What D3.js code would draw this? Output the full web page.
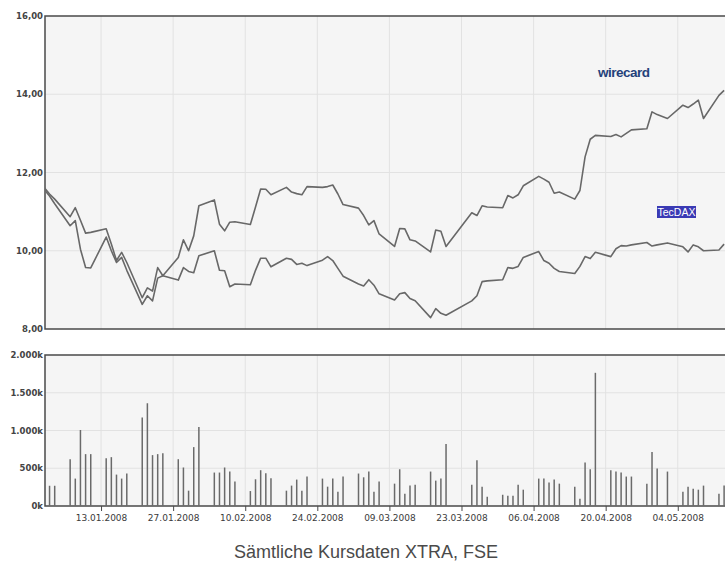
<!DOCTYPE html>
<html>
<head>
<meta charset="utf-8">
<script src="https://cdn.jsdelivr.net/npm/d3@7"></script>
<style>
  body { margin: 0; background: #fff; }
</style>
</head>
<body>
<div id="chart"></div>
<script>

// trading days XTRA, Jan - May 2008
var days = ["2008-01-02","2008-01-03","2008-01-04","2008-01-07","2008-01-08","2008-01-09","2008-01-10","2008-01-11",
  "2008-01-14","2008-01-15","2008-01-16","2008-01-17","2008-01-18","2008-01-21","2008-01-22","2008-01-23","2008-01-24","2008-01-25",
  "2008-01-28","2008-01-29","2008-01-30","2008-01-31","2008-02-01","2008-02-04","2008-02-05","2008-02-06","2008-02-07","2008-02-08",
  "2008-02-11","2008-02-12","2008-02-13","2008-02-14","2008-02-15","2008-02-18","2008-02-19","2008-02-20","2008-02-21","2008-02-22",
  "2008-02-25","2008-02-26","2008-02-27","2008-02-28","2008-02-29","2008-03-03","2008-03-04","2008-03-05","2008-03-06","2008-03-07",
  "2008-03-10","2008-03-11","2008-03-12","2008-03-13","2008-03-14","2008-03-17","2008-03-18","2008-03-19","2008-03-20",
  "2008-03-25","2008-03-26","2008-03-27","2008-03-28","2008-03-31","2008-04-01","2008-04-02","2008-04-03","2008-04-04",
  "2008-04-07","2008-04-08","2008-04-09","2008-04-10","2008-04-11","2008-04-14","2008-04-15","2008-04-16","2008-04-17","2008-04-18",
  "2008-04-21","2008-04-22","2008-04-23","2008-04-24","2008-04-25","2008-04-28","2008-04-29","2008-04-30","2008-05-02",
  "2008-05-05","2008-05-06","2008-05-07","2008-05-08","2008-05-09","2008-05-12","2008-05-13"];

// closing prices (EUR)
var wirecard = [11.61, 11.45, 11.32, 10.87, 11.10, 10.78, 10.45, 10.47, 10.56, 10.17, 9.75, 9.96, 9.70, 8.80, 9.05, 8.97, 9.57, 9.36, 9.83, 10.28, 10.00, 10.38,
  11.15, 11.30, 10.68, 10.51, 10.73, 10.74, 10.67, 11.12, 11.58, 11.57, 11.43, 11.62, 11.50, 11.46, 11.43, 11.64, 11.62, 11.64, 11.68, 11.45, 11.18,
  11.09, 10.90, 10.66, 10.77, 10.43, 10.11, 10.57, 10.56, 10.28, 10.25, 9.97, 10.53, 10.50, 10.11, 10.97, 10.90, 11.15, 11.12, 11.10,
  11.41, 11.35, 11.43, 11.66, 11.90, 11.83, 11.75, 11.47, 11.50, 11.32, 11.54, 12.40, 12.85, 12.95, 12.92, 12.97, 12.91, 13.00, 13.09, 13.12, 13.55, 13.48,
  13.38, 13.72, 13.66, 13.75, 13.85, 13.38, 13.97, 14.10];

// TecDAX, rebased to wirecard
var tecdax = [11.56, 11.40, 11.20, 10.64, 10.77, 10.04, 9.57, 9.56, 10.35, 10.00, 9.70, 9.83, 9.50, 8.63, 8.85, 8.72, 9.30, 9.36, 9.25, 9.57, 9.47, 9.44,
  9.87, 10.00, 9.50, 9.49, 9.08, 9.15, 9.13, 9.50, 9.81, 9.81, 9.59, 9.81, 9.78, 9.65, 9.68, 9.62, 9.76, 9.85, 9.75, 9.55, 9.35,
  9.15, 9.10, 9.26, 9.12, 8.90, 8.74, 8.90, 8.93, 8.78, 8.72, 8.29, 8.52, 8.40, 8.35, 8.72, 8.85, 9.21, 9.23, 9.26,
  9.57, 9.55, 9.60, 9.83, 9.98, 9.75, 9.68, 9.55, 9.47, 9.42, 9.60, 9.85, 9.80, 9.96, 9.85, 10.05, 10.13, 10.12, 10.15, 10.21, 10.12, 10.15,
  10.20, 10.10, 9.97, 10.15, 10.10, 10.00, 10.02, 10.17];

// volume in thousand shares
var volume = [0, 268, 268, 620, 363, 1007, 687, 687, 634, 647, 416, 363, 430, 1171, 1361, 674, 687, 700, 620, 510, 203, 780,
  1047, 443, 443, 510, 456, 323, 198, 354, 474, 434, 367, 203, 270, 350, 203, 390, 363, 256, 363, 190, 390,
  430, 380, 456, 190, 323, 296, 487, 163, 270, 283, 456, 336, 363, 821, 283, 607, 256, 123, 149,
  136, 136, 283, 216, 363, 363, 310, 350, 296, 256, 96, 576, 487, 1764, 474, 456, 443, 390, 390, 296, 714, 496,
  456, 190, 256, 230, 216, 270, 163, 270];

var priceTicks = [8, 10, 12, 14, 16];
var volumeTicks = [0, 500, 1000, 1500, 2000];
var dateTicks = ["2008-01-13","2008-01-27","2008-02-10","2008-02-24","2008-03-09","2008-03-23","2008-04-06","2008-04-20","2008-05-04"];

var parse = d3.utcParse("%Y-%m-%d");
var de = d3.formatLocale({ decimal: ",", thousands: ".", grouping: [3], currency: ["", " €"] });

var data = days.map(function (d, i) {
    return { date: parse(d), w: wirecard[i], t: tecdax[i], v: volume[i] };
});

var width = 725, height = 562;

var svg = d3.select("#chart")
    .append("svg")
    .attr("width", width)
    .attr("height", height)
    .style("font-family", "'DejaVu Sans', Verdana, sans-serif");

// shared time scale (plot runs past the right edge of the window)
var x = d3.scaleUtc()
    .domain([parse("2008-01-02"), parse("2008-05-15")])
    .range([44.4, 734.4]);

var y = d3.scaleLinear().domain([8, 16]).range([329, 16]);
var yv = d3.scaleLinear().domain([0, 2000]).range([506, 355]);

var left = 45, right = 740;

svg.append("clipPath").attr("id", "clipTop")
    .append("rect").attr("x", left).attr("y", y(16)).attr("width", right - left).attr("height", y(8) - y(16));

// draws background, grid and frame of one panel
function panel(scale, ticks, fmt) {
    var g = svg.append("g");
    var top = scale.range()[1], bottom = scale.range()[0];
    g.append("rect")
        .attr("x", left).attr("y", top)
        .attr("width", right - left).attr("height", bottom - top)
        .style("fill", "#f5f5f5");
    g.selectAll(".hg")
        .data(ticks.slice(1, -1))
        .enter().append("line")
        .attr("x1", left).attr("x2", right)
        .attr("y1", function (d) { return scale(d); })
        .attr("y2", function (d) { return scale(d); })
        .style("stroke", "#e2e2e2");
    g.selectAll(".vg")
        .data(dateTicks)
        .enter().append("line")
        .attr("x1", function (d) { return x(parse(d)); })
        .attr("x2", function (d) { return x(parse(d)); })
        .attr("y1", top).attr("y2", bottom)
        .style("stroke", "#e2e2e2");
    // frame
    g.append("path")
        .attr("d", "M" + right + "," + top + "H" + left + "V" + bottom + "H" + right)
        .style("fill", "none")
        .style("stroke", "#4a4a4a")
        .style("stroke-width", 1.5);
    // y labels
    var ax = svg.append("g")
        .attr("transform", "translate(" + left + ",0)")
        .call(d3.axisLeft(scale).tickValues(ticks).tickSize(0).tickPadding(2).tickFormat(fmt));
    ax.select(".domain").remove();
    ax.selectAll("text")
        .style("font-size", "8.5px")
        .style("font-weight", "bold")
        .style("font-family", "'DejaVu Sans', Verdana, sans-serif")
        .style("fill", "#444");
    return g;
}

panel(y, priceTicks, function (d) { return de.format(",.2f")(d); });
panel(yv, volumeTicks, function (d) { return de.format(",")(d) + "k"; });

// price lines
var line = function (key) {
    return d3.line()
        .x(function (d) { return x(d.date); })
        .y(function (d) { return y(d[key]); });
};

["t", "w"].forEach(function (k) {
    svg.append("path")
        .datum(data)
        .attr("clip-path", "url(#clipTop)")
        .attr("d", line(k))
        .style("fill", "none")
        .style("stroke", "#686868")
        .style("stroke-width", 1.6)
        .style("stroke-linejoin", "round");
});

// volume bars
svg.selectAll(".vol")
    .data(data.filter(function (d) { return d.v > 0; }))
    .enter().append("line")
    .attr("x1", function (d) { return x(d.date); })
    .attr("x2", function (d) { return x(d.date); })
    .attr("y1", yv(0))
    .attr("y2", function (d) { return yv(d.v); })
    .style("stroke", "#6a6a6a")
    .style("stroke-width", 1.5);

// date axis below volume panel
var xa = svg.append("g")
    .attr("transform", "translate(0," + yv(0) + ")")
    .call(d3.axisBottom(x)
        .tickValues(dateTicks.map(parse))
        .tickSize(5)
        .tickPadding(4)
        .tickFormat(d3.utcFormat("%d.%m.%Y")));
xa.select(".domain").remove();
xa.selectAll("line").style("stroke", "#4a4a4a");
xa.selectAll("text")
    .style("font-size", "9px")
    .style("font-family", "'DejaVu Sans', Verdana, sans-serif")
    .style("fill", "#3a3a3a");

// series labels
svg.append("text")
    .attr("x", 598)
    .attr("y", 77)
    .style("font-family", "'Liberation Sans', Arial, sans-serif")
    .style("font-weight", "bold")
    .style("font-size", "13.5px")
    .style("letter-spacing", "-0.5px")
    .style("fill", "#24417a")
    .text("wirecard");

svg.append("rect")
    .attr("x", 657).attr("y", 206)
    .attr("width", 39).attr("height", 12)
    .style("fill", "#3a3ab4");
svg.append("text")
    .attr("x", 676.5)
    .attr("y", 216)
    .attr("text-anchor", "middle")
    .style("font-family", "'Liberation Sans', Arial, sans-serif")
    .style("font-size", "10.5px")
    .style("fill", "#fff")
    .text("TecDAX");

// caption
svg.append("text")
    .attr("x", 366)
    .attr("y", 558)
    .attr("text-anchor", "middle")
    .style("font-family", "'Liberation Sans', Arial, sans-serif")
    .style("font-size", "18px")
    .style("fill", "#4a4a4a")
    .text("Sämtliche Kursdaten XTRA, FSE");

</script>
</body>
</html>
